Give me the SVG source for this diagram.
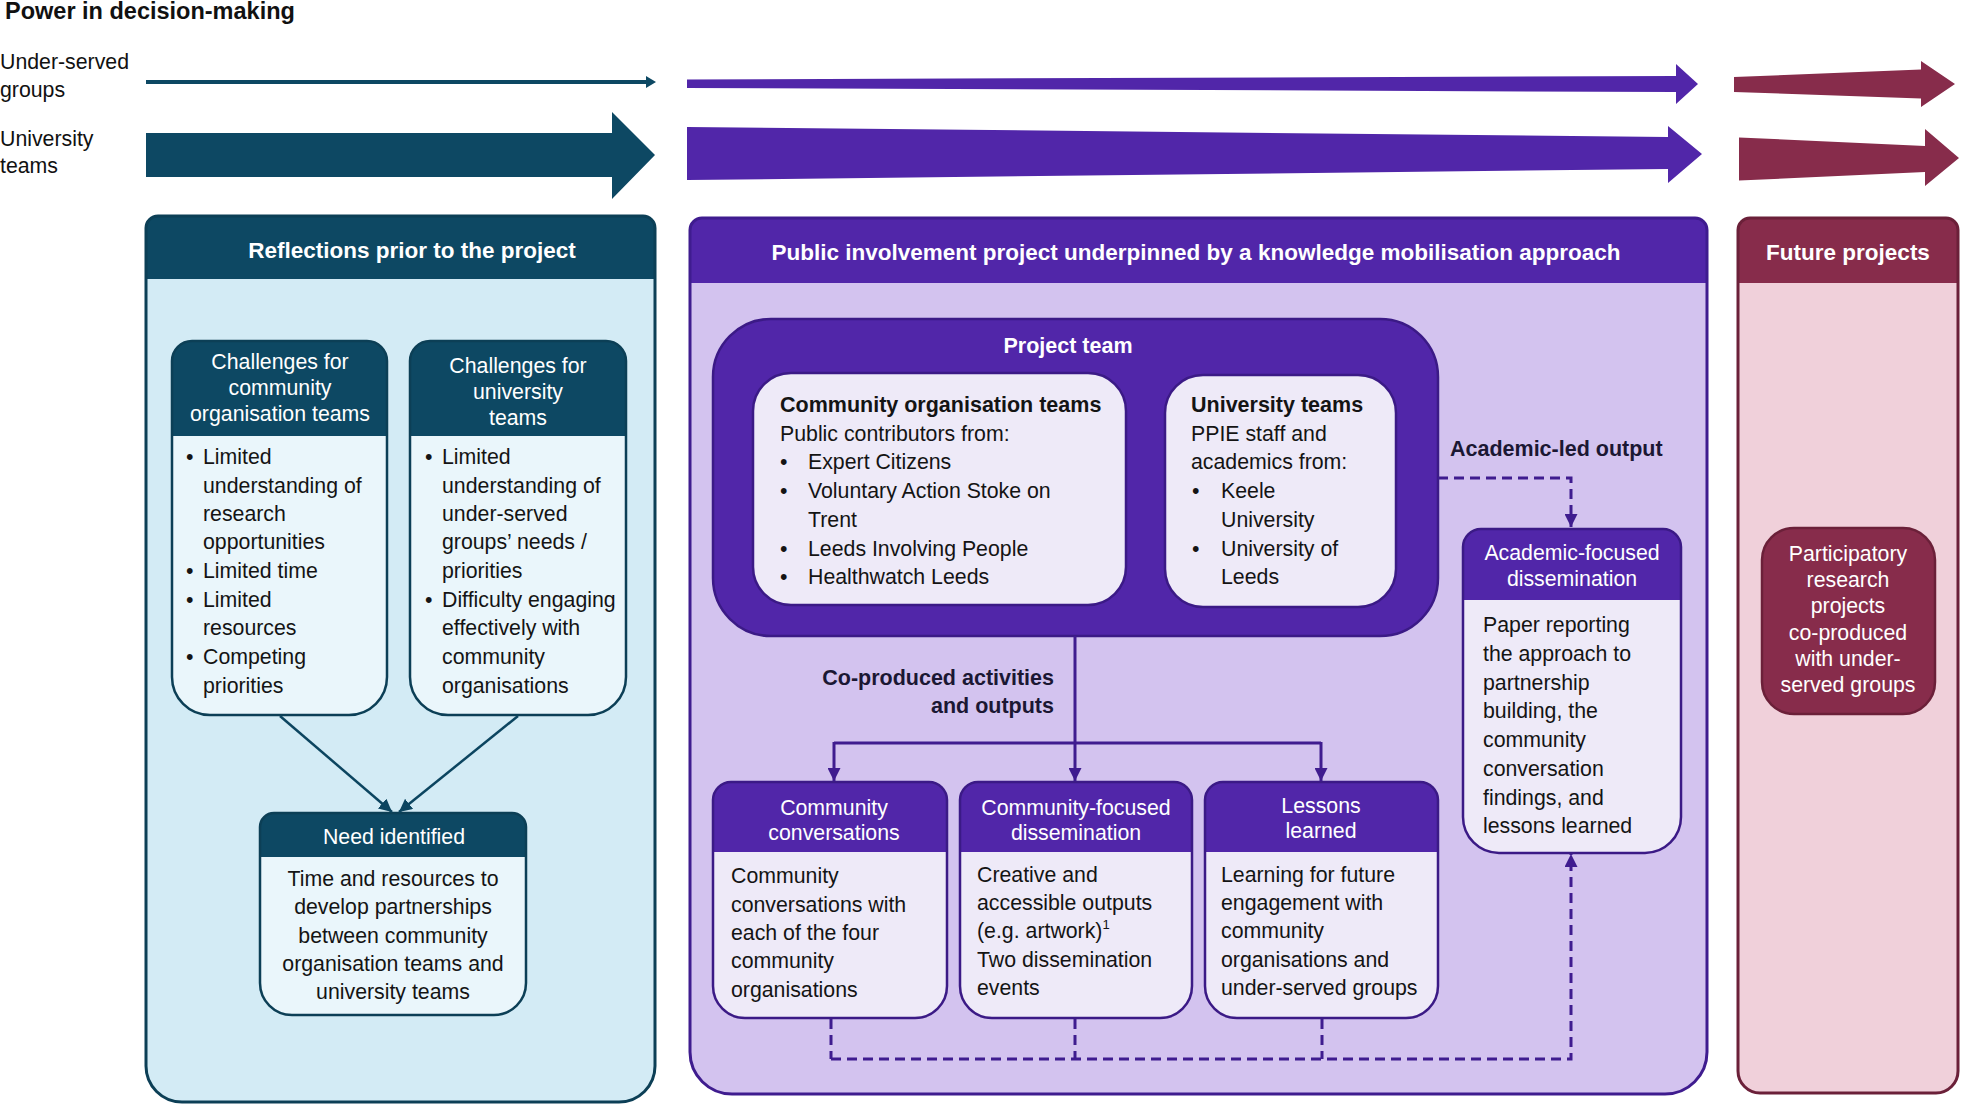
<svg xmlns="http://www.w3.org/2000/svg" width="1961" height="1105" viewBox="0 0 1961 1105">
<defs>
<style>
text{font-family:"Liberation Sans",Arial,Helvetica,sans-serif;}
.title{font-size:23.5px;font-weight:bold;fill:#111;}
.side{font-size:21.3px;fill:#111;}
.ph{font-size:22.5px;font-weight:bold;fill:#fff;text-anchor:middle;}
.hw{font-size:21.3px;fill:#fff;text-anchor:middle;}
.bd{font-size:21.3px;fill:#141414;}
.bdc{font-size:21.3px;fill:#141414;text-anchor:middle;}
.bb{font-size:21.5px;font-weight:bold;fill:#141414;}
.lbl{font-size:21.5px;font-weight:bold;fill:#1b1733;}
.tealH{fill:#0d4863;}
.tealB{fill:#eaf6fb;}
.tealS{fill:none;stroke:#0c3f56;stroke-width:2.5;}
.purH{fill:#5126a9;}
.purB{fill:#eeeaf8;}
.purS{fill:none;stroke:#3b1a86;stroke-width:2.5;}
.solid{fill:none;stroke:#3f1c8f;stroke-width:3;}
.dash{fill:none;stroke:#3f1c8f;stroke-width:3;stroke-dasharray:10 6;}
.tline{fill:none;stroke:#0c4560;stroke-width:2.5;}
</style>
<marker id="mp" viewBox="0 0 10 10" refX="10" refY="5" markerWidth="13" markerHeight="13" markerUnits="userSpaceOnUse" orient="auto"><path d="M0,0 L10,5 L0,10 Z" fill="#3f1c8f"/></marker>
<marker id="mt" viewBox="0 0 10 10" refX="10" refY="5" markerWidth="13" markerHeight="13" markerUnits="userSpaceOnUse" orient="auto"><path d="M0,0 L10,5 L0,10 Z" fill="#0c4560"/></marker>
</defs>
<rect x="0" y="0" width="1961" height="1105" fill="#ffffff"/>

<g id="power-legend">
<text class="title" x="5" y="19">Power in decision-making</text>
<text class="side" x="0" y="69">Under-served</text>
<text class="side" x="0" y="97">groups</text>
<text class="side" x="0" y="146">University</text>
<text class="side" x="0" y="173">teams</text>
<polygon fill="#0d4863" points="146,80 646,80 646,76 656,82 646,88 646,84 146,84"/>
<polygon fill="#0d4863" points="146,133 612,133 612,112 655,155 612,199 612,177 146,177"/>
<polygon fill="#5126a9" points="687,79.5 1676,76 1676,64 1698,84 1676,104 1676,92 687,88"/>
<polygon fill="#5126a9" points="687,127 1668,137 1668,126 1702,154 1668,183 1668,169 687,180"/>
<polygon fill="#872c4b" points="1734,77 1921,69.5 1921,61 1955,84 1921,107 1921,98.5 1734,92"/>
<polygon fill="#872c4b" points="1739,137.5 1925,146 1925,129 1959,158 1925,186 1925,172 1739,180.5"/>
</g>

<g id="reflections-panel">
<path d="M158,216 H643 A12,12 0 0 1 655,228 V1066 A36,36 0 0 1 619,1102 H182 A36,36 0 0 1 146,1066 V228 A12,12 0 0 1 158,216 Z" class="tealH"/>
<path d="M146,279 H655 V1066 A36,36 0 0 1 619,1102 H182 A36,36 0 0 1 146,1066 Z" fill="#d3ebf5"/>
<path d="M158,216 H643 A12,12 0 0 1 655,228 V1066 A36,36 0 0 1 619,1102 H182 A36,36 0 0 1 146,1066 V228 A12,12 0 0 1 158,216 Z" fill="none" stroke="#0c3f56" stroke-width="3"/>
<text class="ph" x="412" y="258">Reflections prior to the project</text>
</g>

<g id="challenges-community">
<path d="M192,341 H367 A20,20 0 0 1 387,361 V677 A38,38 0 0 1 349,715 H210 A38,38 0 0 1 172,677 V361 A20,20 0 0 1 192,341 Z" class="tealH"/>
<path d="M172,436 H387 V677 A38,38 0 0 1 349,715 H210 A38,38 0 0 1 172,677 Z" class="tealB"/>
<path d="M192,341 H367 A20,20 0 0 1 387,361 V677 A38,38 0 0 1 349,715 H210 A38,38 0 0 1 172,677 V361 A20,20 0 0 1 192,341 Z" class="tealS"/>
<text class="hw" x="280" y="369">Challenges for</text>
<text class="hw" x="280" y="395">community</text>
<text class="hw" x="280" y="421">organisation teams</text>
<text class="bd" x="186" y="464">•</text><text class="bd" x="203" y="464">Limited</text>
<text class="bd" x="203" y="493">understanding of</text>
<text class="bd" x="203" y="521">research</text>
<text class="bd" x="203" y="549">opportunities</text>
<text class="bd" x="186" y="578">•</text><text class="bd" x="203" y="578">Limited time</text>
<text class="bd" x="186" y="607">•</text><text class="bd" x="203" y="607">Limited</text>
<text class="bd" x="203" y="635">resources</text>
<text class="bd" x="186" y="664">•</text><text class="bd" x="203" y="664">Competing</text>
<text class="bd" x="203" y="693">priorities</text>
</g>

<g id="challenges-university">
<path d="M430,341 H606 A20,20 0 0 1 626,361 V677 A38,38 0 0 1 588,715 H448 A38,38 0 0 1 410,677 V361 A20,20 0 0 1 430,341 Z" class="tealH"/>
<path d="M410,436 H626 V677 A38,38 0 0 1 588,715 H448 A38,38 0 0 1 410,677 Z" class="tealB"/>
<path d="M430,341 H606 A20,20 0 0 1 626,361 V677 A38,38 0 0 1 588,715 H448 A38,38 0 0 1 410,677 V361 A20,20 0 0 1 430,341 Z" class="tealS"/>
<text class="hw" x="518" y="373">Challenges for</text>
<text class="hw" x="518" y="399">university</text>
<text class="hw" x="518" y="425">teams</text>
<text class="bd" x="425" y="464">•</text><text class="bd" x="442" y="464">Limited</text>
<text class="bd" x="442" y="493">understanding of</text>
<text class="bd" x="442" y="521">under-served</text>
<text class="bd" x="442" y="549">groups’ needs /</text>
<text class="bd" x="442" y="578">priorities</text>
<text class="bd" x="425" y="607">•</text><text class="bd" x="442" y="607">Difficulty engaging</text>
<text class="bd" x="442" y="635">effectively with</text>
<text class="bd" x="442" y="664">community</text>
<text class="bd" x="442" y="693">organisations</text>
</g>

<g id="need-identified">
<path d="M274,813 H512 A14,14 0 0 1 526,827 V983 A32,32 0 0 1 494,1015 H292 A32,32 0 0 1 260,983 V827 A14,14 0 0 1 274,813 Z" class="tealH"/>
<path d="M260,857 H526 V983 A32,32 0 0 1 494,1015 H292 A32,32 0 0 1 260,983 Z" class="tealB"/>
<path d="M274,813 H512 A14,14 0 0 1 526,827 V983 A32,32 0 0 1 494,1015 H292 A32,32 0 0 1 260,983 V827 A14,14 0 0 1 274,813 Z" class="tealS"/>
<text class="hw" x="394" y="844">Need identified</text>
<text class="bdc" x="393" y="886">Time and resources to</text>
<text class="bdc" x="393" y="914">develop partnerships</text>
<text class="bdc" x="393" y="943">between community</text>
<text class="bdc" x="393" y="971">organisation teams and</text>
<text class="bdc" x="393" y="999">university teams</text>
</g>

<g id="project-panel">
<path d="M702,218 H1695 A12,12 0 0 1 1707,230 V1052 A42,42 0 0 1 1665,1094 H732 A42,42 0 0 1 690,1052 V230 A12,12 0 0 1 702,218 Z" class="purH"/>
<path d="M690,283 H1707 V1052 A42,42 0 0 1 1665,1094 H732 A42,42 0 0 1 690,1052 Z" fill="#d3c3ef"/>
<path d="M702,218 H1695 A12,12 0 0 1 1707,230 V1052 A42,42 0 0 1 1665,1094 H732 A42,42 0 0 1 690,1052 V230 A12,12 0 0 1 702,218 Z" fill="none" stroke="#3f1c8f" stroke-width="3"/>
<text class="ph" x="1196" y="260">Public involvement project underpinned by a knowledge mobilisation approach</text>
</g>

<g id="project-team">
<rect x="713" y="319" width="725" height="317" rx="58" class="purH" stroke="#3b1a86" stroke-width="2.5"/>
<text class="ph" x="1068" y="353" style="font-size:21.5px">Project team</text>
</g>

<g id="community-organisation-teams">
<rect x="753" y="373" width="373" height="232" rx="38" class="purB" stroke="#3b1a86" stroke-width="2.5"/>
<text class="bb" x="780" y="412">Community organisation teams</text>
<text class="bd" x="780" y="441">Public contributors from:</text>
<text class="bd" x="780" y="469">•</text><text class="bd" x="808" y="469">Expert Citizens</text>
<text class="bd" x="780" y="498">•</text><text class="bd" x="808" y="498">Voluntary Action Stoke on</text>
<text class="bd" x="808" y="527">Trent</text>
<text class="bd" x="780" y="556">•</text><text class="bd" x="808" y="556">Leeds Involving People</text>
<text class="bd" x="780" y="584">•</text><text class="bd" x="808" y="584">Healthwatch Leeds</text>
</g>

<g id="university-teams">
<rect x="1165" y="375" width="231" height="232" rx="38" class="purB" stroke="#3b1a86" stroke-width="2.5"/>
<text class="bb" x="1191" y="412">University teams</text>
<text class="bd" x="1191" y="441">PPIE staff and</text>
<text class="bd" x="1191" y="469">academics from:</text>
<text class="bd" x="1192" y="498">•</text><text class="bd" x="1221" y="498">Keele</text>
<text class="bd" x="1221" y="527">University</text>
<text class="bd" x="1192" y="556">•</text><text class="bd" x="1221" y="556">University of</text>
<text class="bd" x="1221" y="584">Leeds</text>
</g>

<g id="academic-focused-dissemination">
<path d="M1481,529 H1663 A18,18 0 0 1 1681,547 V817 A36,36 0 0 1 1645,853 H1499 A36,36 0 0 1 1463,817 V547 A18,18 0 0 1 1481,529 Z" class="purH"/>
<path d="M1463,600 H1681 V817 A36,36 0 0 1 1645,853 H1499 A36,36 0 0 1 1463,817 Z" class="purB"/>
<path d="M1481,529 H1663 A18,18 0 0 1 1681,547 V817 A36,36 0 0 1 1645,853 H1499 A36,36 0 0 1 1463,817 V547 A18,18 0 0 1 1481,529 Z" class="purS"/>
<text class="hw" x="1572" y="560">Academic-focused</text>
<text class="hw" x="1572" y="586">dissemination</text>
<text class="bd" x="1483" y="632">Paper reporting</text>
<text class="bd" x="1483" y="661">the approach to</text>
<text class="bd" x="1483" y="690">partnership</text>
<text class="bd" x="1483" y="718">building, the</text>
<text class="bd" x="1483" y="747">community</text>
<text class="bd" x="1483" y="776">conversation</text>
<text class="bd" x="1483" y="805">findings, and</text>
<text class="bd" x="1483" y="833">lessons learned</text>
</g>

<g id="community-conversations">
<path d="M731,782 H929 A18,18 0 0 1 947,800 V986 A32,32 0 0 1 915,1018 H745 A32,32 0 0 1 713,986 V800 A18,18 0 0 1 731,782 Z" class="purH"/>
<path d="M713,852 H947 V986 A32,32 0 0 1 915,1018 H745 A32,32 0 0 1 713,986 Z" class="purB"/>
<path d="M731,782 H929 A18,18 0 0 1 947,800 V986 A32,32 0 0 1 915,1018 H745 A32,32 0 0 1 713,986 V800 A18,18 0 0 1 731,782 Z" class="purS"/>
<text class="hw" x="834" y="815">Community</text>
<text class="hw" x="834" y="840">conversations</text>
<text class="bd" x="731" y="883">Community</text>
<text class="bd" x="731" y="912">conversations with</text>
<text class="bd" x="731" y="940">each of the four</text>
<text class="bd" x="731" y="968">community</text>
<text class="bd" x="731" y="997">organisations</text>
</g>

<g id="community-focused-dissemination">
<path d="M978,782 H1174 A18,18 0 0 1 1192,800 V986 A32,32 0 0 1 1160,1018 H992 A32,32 0 0 1 960,986 V800 A18,18 0 0 1 978,782 Z" class="purH"/>
<path d="M960,852 H1192 V986 A32,32 0 0 1 1160,1018 H992 A32,32 0 0 1 960,986 Z" class="purB"/>
<path d="M978,782 H1174 A18,18 0 0 1 1192,800 V986 A32,32 0 0 1 1160,1018 H992 A32,32 0 0 1 960,986 V800 A18,18 0 0 1 978,782 Z" class="purS"/>
<text class="hw" x="1076" y="815">Community-focused</text>
<text class="hw" x="1076" y="840">dissemination</text>
<text class="bd" x="977" y="882">Creative and</text>
<text class="bd" x="977" y="910">accessible outputs</text>
<text class="bd" x="977" y="938">(e.g. artwork)<tspan font-size="13" dy="-9">1</tspan></text>
<text class="bd" x="977" y="967">Two dissemination</text>
<text class="bd" x="977" y="995">events</text>
</g>

<g id="lessons-learned">
<path d="M1223,782 H1420 A18,18 0 0 1 1438,800 V986 A32,32 0 0 1 1406,1018 H1237 A32,32 0 0 1 1205,986 V800 A18,18 0 0 1 1223,782 Z" class="purH"/>
<path d="M1205,852 H1438 V986 A32,32 0 0 1 1406,1018 H1237 A32,32 0 0 1 1205,986 Z" class="purB"/>
<path d="M1223,782 H1420 A18,18 0 0 1 1438,800 V986 A32,32 0 0 1 1406,1018 H1237 A32,32 0 0 1 1205,986 V800 A18,18 0 0 1 1223,782 Z" class="purS"/>
<text class="hw" x="1321" y="813">Lessons</text>
<text class="hw" x="1321" y="838">learned</text>
<text class="bd" x="1221" y="882">Learning for future</text>
<text class="bd" x="1221" y="910">engagement with</text>
<text class="bd" x="1221" y="938">community</text>
<text class="bd" x="1221" y="967">organisations and</text>
<text class="bd" x="1221" y="995">under-served groups</text>
</g>

<g id="future-panel">
<path d="M1750,218 H1946 A12,12 0 0 1 1958,230 V1071 A22,22 0 0 1 1936,1093 H1760 A22,22 0 0 1 1738,1071 V230 A12,12 0 0 1 1750,218 Z" fill="#872c4b"/>
<path d="M1738,283 H1958 V1071 A22,22 0 0 1 1936,1093 H1760 A22,22 0 0 1 1738,1071 Z" fill="#f0d0da"/>
<path d="M1750,218 H1946 A12,12 0 0 1 1958,230 V1071 A22,22 0 0 1 1936,1093 H1760 A22,22 0 0 1 1738,1071 V230 A12,12 0 0 1 1750,218 Z" fill="none" stroke="#6b2039" stroke-width="3"/>
<text class="ph" x="1848" y="260">Future projects</text>
</g>

<g id="participatory-research">
<rect x="1762" y="528" width="173" height="186" rx="32" fill="#872c4b" stroke="#6b2039" stroke-width="2.5"/>
<text class="hw" x="1848" y="561">Participatory</text>
<text class="hw" x="1848" y="587">research</text>
<text class="hw" x="1848" y="613">projects</text>
<text class="hw" x="1848" y="640">co-produced</text>
<text class="hw" x="1848" y="666">with under-</text>
<text class="hw" x="1848" y="692">served groups</text>
</g>

<g id="connectors">
<path class="tline" d="M280,716 L392,812" marker-end="url(#mt)"/>
<path class="tline" d="M518,716 L399,812" marker-end="url(#mt)"/>
<path class="solid" d="M1075,636 V781" marker-end="url(#mp)"/>
<path class="solid" d="M834,743 H1321"/>
<path class="solid" d="M834,742 V781" marker-end="url(#mp)"/>
<path class="solid" d="M1321,742 V781" marker-end="url(#mp)"/>
<path class="dash" d="M1438,478 H1571 V527" marker-end="url(#mp)"/>
<path class="dash" d="M831,1019 V1059"/>
<path class="dash" d="M1075,1019 V1059"/>
<path class="dash" d="M1322,1019 V1059"/>
<path class="dash" d="M831,1059 H1571 V854" marker-end="url(#mp)"/>
<text class="lbl" x="1054" y="685" text-anchor="end">Co-produced activities</text>
<text class="lbl" x="1054" y="713" text-anchor="end">and outputs</text>
<text class="lbl" x="1450" y="456">Academic-led output</text>
</g>
</svg>
